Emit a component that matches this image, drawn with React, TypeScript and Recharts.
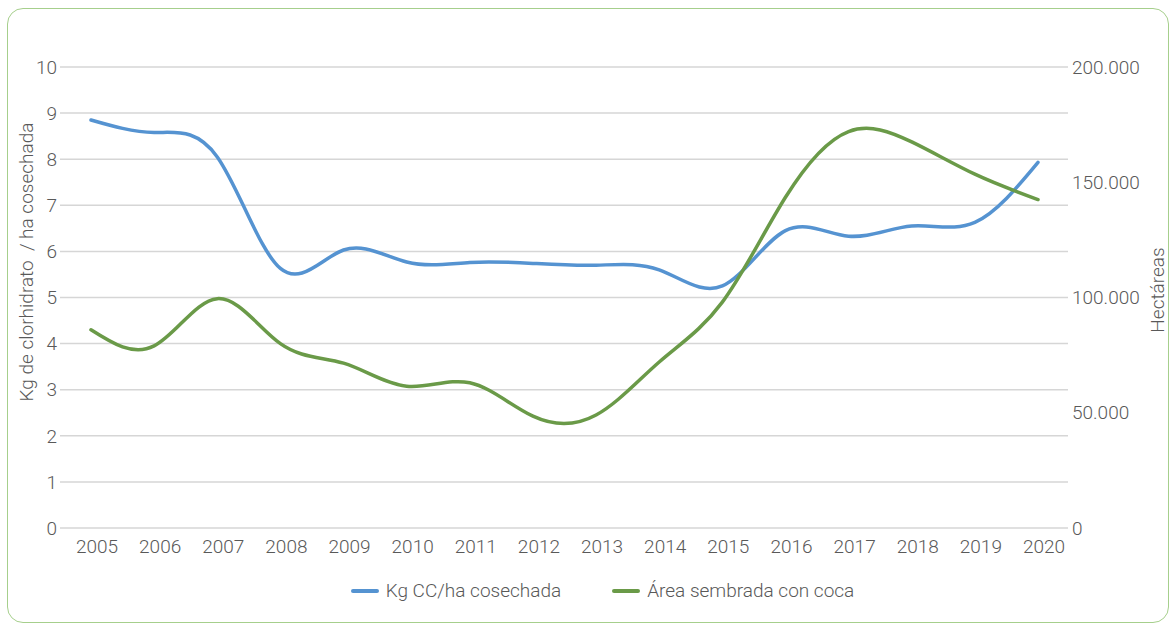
import { LineChart, Line, XAxis, YAxis, CartesianGrid, Legend, Label } from "recharts";

const years = ["2005", "2006", "2007", "2008", "2009", "2010", "2011", "2012", "2013", "2014", "2015", "2016", "2017", "2018", "2019", "2020"];
const kgPorHa = [8.85, 8.58, 8.05, 5.63, 6.03, 5.77, 5.76, 5.74, 5.7, 5.6, 5.25, 6.45, 6.33, 6.55, 6.63, 7.93];
const hectareas = [86000, 79000, 99500, 80000, 71500, 61500, 63000, 48500, 49000, 72000, 98000, 143500, 172000, 167500, 153500, 142500];
const leftTicks = [0, 1, 2, 3, 4, 5, 6, 7, 8, 9, 10];
const rightTicks = [0, 50000, 100000, 150000, 200000];

const BLUE = "#5593d1";
const GREEN = "#6a9a48";
const TEXT = "#595959";
const FONT = "Roboto, 'Liberation Sans', Arial, sans-serif";

const data = years.map((year, i) => ({ year, kg: kgPorHa[i], area: hectareas[i] }));

const fmtMiles = (v: number) => (v === 0 ? "0" : v.toLocaleString("de-DE"));

const legendItems = [
  { label: "Kg CC/ha cosechada", color: BLUE },
  { label: "Área sembrada con coca", color: GREEN },
];

function LegendRow() {
  return (
    <div style={{ display: "flex", justifyContent: "center", gap: 51, paddingLeft: 42, fontFamily: FONT, fontWeight: 300, fontSize: 19, color: TEXT, lineHeight: "30px" }}>
      {legendItems.map((it) => (
        <div key={it.label} style={{ display: "flex", alignItems: "center" }}>
          <span style={{ display: "inline-block", width: 28, height: 4, borderRadius: 2, background: it.color, marginRight: 7 }} />
          <span>{it.label}</span>
        </div>
      ))}
    </div>
  );
}

export default function App() {
  const tick = { fontSize: 19, fill: TEXT, fontFamily: FONT, fontWeight: 300 };
  return (
    <div style={{ position: "absolute", left: 0, top: 0, width: 1171, height: 624, background: "#fff" }}>
      <div style={{ position: "absolute", left: 7, top: 8, width: 1160, height: 613, border: "1.5px solid #a6cf8c", borderRadius: 16 }} />
      <div style={{ position: "absolute", left: 0, top: 0 }}>
        <LineChart width={1171} height={624} data={data} margin={{ top: 67, right: 8, bottom: 18, left: 0 }}>
          <CartesianGrid yAxisId="left" vertical={false} stroke="#d6d6d6" strokeWidth={1.5} />
          <XAxis
            dataKey="year"
            height={48}
            padding={{ left: 31, right: 30 }}
            axisLine={false}
            tickLine={false}
            tickSize={0}
            tickMargin={12}
            tick={{ ...tick, dx: 6 }}
            interval={0}
          />
          <YAxis
            yAxisId="left"
            width={60}
            domain={[0, 10]}
            ticks={leftTicks}
            axisLine={false}
            tickLine={false}
            tickSize={0}
            tickMargin={3}
            tick={tick}
          >
            <Label
              content={() => (
                <text x={26} y={262} transform="rotate(-90 26 262)" textAnchor="middle" dominantBaseline="central" style={{ whiteSpace: "pre" }} fill={TEXT} fontSize={19} fontFamily={FONT} fontWeight={300}>
                  {"Kg de clorhidrato  / ha cosechada"}
                </text>
              )}
            />
          </YAxis>
          <YAxis
            yAxisId="right"
            orientation="right"
            width={95}
            domain={[0, 200000]}
            ticks={rightTicks}
            tickFormatter={fmtMiles}
            axisLine={false}
            tickLine={false}
            tickSize={0}
            tickMargin={4}
            tick={tick}
          >
            <Label
              content={() => (
                <text x={1157} y={290} transform="rotate(-90 1157 290)" textAnchor="middle" dominantBaseline="central" fill={TEXT} fontSize={19} fontFamily={FONT} fontWeight={300}>
                  Hectáreas
                </text>
              )}
            />
          </YAxis>
          <Legend verticalAlign="bottom" wrapperStyle={{ height: 30 }} content={() => <LegendRow />} />
          <Line yAxisId="left" type="natural" dataKey="kg" name="Kg CC/ha cosechada" stroke={BLUE} strokeWidth={3.5} dot={false} strokeLinecap="round" isAnimationActive={false} />
          <Line yAxisId="right" type="natural" dataKey="area" name="Área sembrada con coca" stroke={GREEN} strokeWidth={3.5} dot={false} strokeLinecap="round" isAnimationActive={false} />
        </LineChart>
      </div>
    </div>
  );
}
